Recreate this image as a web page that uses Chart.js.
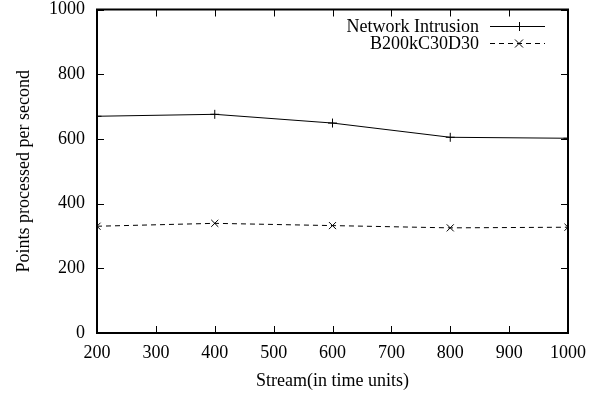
<!DOCTYPE html>
<html>
<head>
<meta charset="utf-8">
<script src="https://cdn.jsdelivr.net/npm/chart.js@4.4.1/dist/chart.umd.min.js"></script>
<style>
  html, body { margin: 0; padding: 0; background: #fff; }
  #wrap { width: 598px; height: 395px; }
</style>
</head>
<body>
<div id="wrap"><canvas id="chart" width="598" height="395"></canvas></div>
<script>
const streams = [200, 400, 600, 800, 1000];
const networkIntrusion = [670, 676, 649, 605, 602];
const b200k = [330, 339, 332, 325, 327];
const xTicks = [200, 300, 400, 500, 600, 700, 800, 900, 1000];
const yTicks = [0, 200, 400, 600, 800, 1000];
const seriesNames = ['Network Intrusion', 'B200kC30D30'];

const fontName = '"Liberation Serif", "Times New Roman", serif';

// gnuplot style frame, inward ticks on all sides, and key in the top right
const framePlugin = {
    id: 'frame',
    afterDatasetsDraw(chart) {
        const { ctx, chartArea: a, scales: { x, y } } = chart;
        ctx.save();
        ctx.strokeStyle = '#000';
        ctx.lineWidth = 1;
        ctx.beginPath();
        xTicks.forEach(v => {
            const px = Math.round(x.getPixelForValue(v)) + 0.5;
            ctx.moveTo(px, a.bottom); ctx.lineTo(px, a.bottom - 7);
            ctx.moveTo(px, a.top); ctx.lineTo(px, a.top + 7);
        });
        yTicks.forEach(v => {
            const py = Math.round(y.getPixelForValue(v)) + 0.5;
            ctx.moveTo(a.left, py); ctx.lineTo(a.left + 7, py);
            ctx.moveTo(a.right, py); ctx.lineTo(a.right - 7, py);
        });
        ctx.stroke();
        ctx.lineWidth = 2;
        ctx.strokeRect(a.left, a.top, a.right - a.left, a.bottom - a.top);

        // key
        ctx.font = '18px ' + fontName;
        ctx.fillStyle = '#000';
        ctx.textAlign = 'right';
        ctx.textBaseline = 'middle';
        chart.data.datasets.forEach((ds, i) => {
            const ky = 26 + i * 17;
            ctx.fillText(seriesNames[i], 479, ky + 1);
            ctx.lineWidth = 1;
            ctx.setLineDash(ds.borderDash || []);
            ctx.beginPath();
            ctx.moveTo(490, ky + 0.5); ctx.lineTo(545, ky + 0.5);
            ctx.stroke();
            ctx.setLineDash([]);
            ctx.beginPath();
            if (i === 0) {
                ctx.moveTo(515, ky + 0.5); ctx.lineTo(523, ky + 0.5);
                ctx.moveTo(519.5, ky - 4); ctx.lineTo(519.5, ky + 5);
            } else {
                ctx.moveTo(515, ky - 3.5); ctx.lineTo(523, ky + 4.5);
                ctx.moveTo(515, ky + 4.5); ctx.lineTo(523, ky - 3.5);
            }
            ctx.stroke();
        });
        ctx.restore();
    }
};

new Chart(document.getElementById('chart'), {
    type: 'line',
    data: {
        datasets: [
            {
                label: seriesNames[0],
                data: streams.map((s, i) => ({ x: s, y: networkIntrusion[i] })),
                borderColor: '#000',
                backgroundColor: '#000',
                borderWidth: 1,
                pointStyle: 'cross',
                pointRadius: 4.5,
                pointBorderWidth: 1,
                tension: 0
            },
            {
                label: seriesNames[1],
                data: streams.map((s, i) => ({ x: s, y: b200k[i] })),
                borderColor: '#000',
                backgroundColor: '#000',
                borderWidth: 1,
                borderDash: [5, 4],
                pointStyle: 'crossRot',
                pointRadius: 5,
                pointBorderWidth: 1,
                tension: 0
            }
        ]
    },
    options: {
        responsive: false,
        animation: false,
        layout: { padding: { left: 0, right: 30, top: 9.5, bottom: 0 } },
        plugins: {
            legend: { display: false },
            tooltip: { enabled: false }
        },
        scales: {
            x: {
                type: 'linear',
                min: 200,
                max: 1000,
                afterFit: s => { s.height = 62; s.paddingLeft = 0; s.paddingRight = 0; },
                afterBuildTicks: s => { s.ticks = xTicks.map(v => ({ value: v })); },
                grid: { display: false, drawTicks: false },
                border: { display: false },
                ticks: { color: '#000', font: { family: fontName, size: 18 }, padding: 9, maxRotation: 0, callback: v => String(v) },
                title: {
                    display: true,
                    text: 'Stream(in time units)',
                    color: '#000',
                    font: { family: fontName, size: 18 },
                    padding: { top: 0, bottom: 3 }
                }
            },
            y: {
                min: 0,
                max: 1000,
                afterFit: s => { s.width = 97; s.paddingTop = 0; s.paddingBottom = 0; },
                afterBuildTicks: s => { s.ticks = yTicks.map(v => ({ value: v })); },
                grid: { display: false, drawTicks: false },
                border: { display: false },
                ticks: { color: '#000', font: { family: fontName, size: 18 }, padding: 12, callback: v => String(v) },
                title: {
                    display: true,
                    text: 'Points processed per second',
                    color: '#000',
                    font: { family: fontName, size: 18 },
                    padding: { top: 13, bottom: 0 }
                }
            }
        }
    },
    plugins: [framePlugin]
});
</script>
</body>
</html>
